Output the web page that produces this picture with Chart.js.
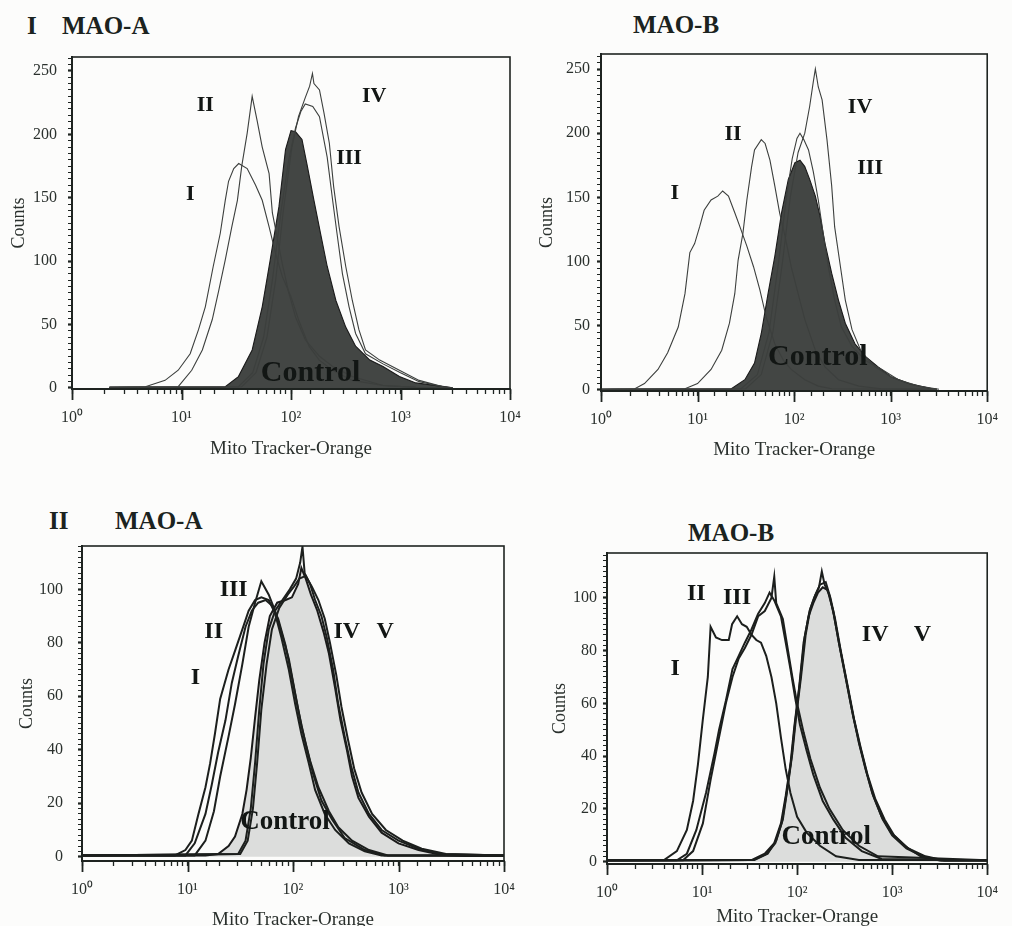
<!DOCTYPE html>
<html><head><meta charset="utf-8">
<script src="https://cdn.jsdelivr.net/npm/chart.js@4.4.1/dist/chart.umd.min.js"></script>
<style>
html,body{margin:0;padding:0;background:#fcfcfb;width:1012px;height:926px;overflow:hidden;}
canvas{position:absolute;}
.t{position:absolute;font-family:'Liberation Serif','Times New Roman',serif;font-weight:bold;font-size:25px;line-height:25px;color:#1b2320;white-space:pre;}
</style></head><body>
<div class="t" style="left:27px;top:13px">I</div>
<div class="t" style="left:62px;top:13px">MAO-A</div>
<div class="t" style="left:633px;top:12px">MAO-B</div>
<div class="t" style="left:49px;top:508px">II</div>
<div class="t" style="left:115px;top:508px">MAO-A</div>
<div class="t" style="left:688px;top:520px">MAO-B</div>
<canvas id="c1" width="540" height="470" style="left:0;top:0"></canvas>
<canvas id="c2" width="482" height="470" style="left:530px;top:0"></canvas>
<canvas id="c3" width="530" height="470" style="left:0;top:470px"></canvas>
<canvas id="c4" width="482" height="470" style="left:530px;top:470px"></canvas>
<script>
// ---------- Axis tick labels ----------
const xDecades = [1, 10, 100, 1000, 10000];
const xDecadeLabels = ['10\u2070', '10\u00b9', '10\u00b2', '10\u00b3', '10\u2074'];
const xTitle = 'Mito Tracker-Orange';
const yTitle = 'Counts';

// ---------- Panel I, MAO-A ----------
const p1I_x = [2.2, 4.68, 7.08, 9.33, 12.0, 14.3, 16.5, 19.5, 22.6, 25.1, 26.9, 30.0, 33.3, 39.8, 47.4, 54.6, 63.1, 72.4, 83.2, 100, 117, 146, 181, 240, 363, 692, 1380, 3000];
const p1I_y = [0.5, 1, 6, 14, 27, 46, 64, 96, 122, 148, 163, 173, 177, 173, 160, 148, 127, 106, 88, 72, 54, 33, 22, 14, 6, 2, 0.5, 0];
const p1II_x = [2.2, 9.33, 12.4, 15.5, 19.1, 21.9, 25.1, 28.8, 32.4, 35.5, 39.8, 44.2, 49.0, 54.6, 63.1, 67.6, 72.4, 83.2, 95.5, 110, 135, 182, 240, 363, 692, 1380, 3000];
const p1II_y = [0.5, 1, 14, 30, 54, 77, 101, 127, 148, 175, 201, 230, 211, 190, 169, 138, 125, 98, 75, 56, 38, 25, 17, 9, 2, 0.5, 0];
const p1III_x = [2.2, 33.1, 44.7, 56.2, 67.6, 81.3, 95.5, 110, 123, 135, 158, 182, 214, 240, 263, 295, 339, 389, 479, 692, 1000, 1479, 2455, 3000];
const p1III_y = [0.5, 1, 12, 40, 85, 140, 180, 205, 218, 224, 222, 214, 182, 148, 122, 90, 64, 43, 27, 19, 12, 5, 1, 0];
const p1IV_x = [2.2, 35.5, 47.9, 60.3, 72.4, 85.1, 102, 117, 135, 148, 157, 162, 182, 200, 224, 245, 275, 316, 363, 417, 479, 646, 977, 1479, 2455, 3000];
const p1IV_y = [0.5, 1, 12, 40, 85, 140, 190, 214, 229, 238, 248, 240, 235, 217, 193, 159, 127, 96, 69, 46, 30, 22, 14, 6, 1, 0];
const p1Ctrl_x = [2.2, 25.1, 33.1, 44.2, 54.6, 64.6, 77.6, 89.1, 100, 110, 126, 141, 162, 186, 214, 257, 316, 389, 525, 692, 977, 1380, 2818, 3000];
const p1Ctrl_y = [0.5, 1, 9, 30, 64, 101, 143, 188, 203, 202, 196, 175, 148, 122, 96, 69, 48, 33, 22, 17, 9, 4, 0.5, 0];
const p1LabelText = ['II', 'I', 'IV', 'III', 'Control'];
const p1LabelX = [16.5, 12.0, 575, 339, 151];
const p1LabelY = [223, 153, 230, 181, 11.8];

// ---------- Panel I, MAO-B ----------
const p2I_x = [1.0, 2.24, 2.82, 3.89, 4.90, 6.31, 7.41, 8.32, 9.33, 10.5, 11.7, 13.8, 16.2, 18.2, 20.9, 24.3, 27.5, 32.4, 38.0, 44.2, 51.3, 63.1, 77.6, 93.3, 129, 178, 245, 3000];
const p2I_y = [0.5, 1, 5, 16, 29, 49, 75, 107, 114, 127, 140, 148, 151, 155, 151, 138, 127, 112, 96, 78, 57, 36, 23, 16, 8, 3, 1, 0.5];
const p2II_x = [1.0, 7.41, 10, 13.8, 17.8, 21.4, 24.3, 26.3, 29.5, 32.4, 36.3, 38.9, 45.7, 50.1, 56.2, 63.1, 70.8, 80.4, 93.3, 110, 129, 166, 209, 288, 468, 794, 3000];
const p2II_y = [0.5, 1, 5, 16, 31, 52, 75, 101, 122, 148, 174, 187, 195, 192, 179, 159, 138, 120, 96, 75, 55, 31, 18, 8, 3, 1, 0.5];
const p2III_x = [1.0, 28.2, 41.7, 55.0, 69.2, 83.2, 95.5, 107, 115, 126, 141, 158, 178, 200, 226, 263, 309, 398, 550, 813, 1202, 1950, 3162];
const p2III_y = [0.5, 1, 12, 45, 100, 150, 180, 196, 200, 195, 187, 170, 148, 122, 96, 70, 49, 34, 23, 16, 8, 3, 0.5];
const p2IV_x = [1.0, 31.6, 45.7, 60.3, 75.9, 91.2, 110, 129, 145, 158, 166, 178, 195, 219, 245, 263, 302, 339, 398, 501, 692, 1023, 1660, 2692, 3000];
const p2IV_y = [0.5, 1, 12, 45, 100, 150, 185, 200, 221, 240, 250, 236, 226, 195, 159, 127, 96, 70, 47, 29, 18, 10, 4, 1, 0.5];
const p2Ctrl_x = [1.0, 22.4, 30.9, 38.9, 45.7, 53.7, 63.1, 74.1, 87.1, 102, 115, 129, 145, 166, 186, 209, 245, 288, 339, 427, 550, 741, 1023, 1549, 2692, 3000];
const p2Ctrl_y = [0.5, 1, 8, 21, 44, 75, 104, 138, 164, 177, 179, 174, 164, 151, 135, 114, 91, 70, 52, 36, 26, 18, 10, 5, 1, 0.5];
const p2LabelText = ['I', 'II', 'IV', 'III', 'Control'];
const p2LabelX = [5.8, 23.3, 482, 613, 176];
const p2LabelY = [153, 199, 220, 173, 25.7];

// ---------- Panel II, MAO-A ----------
const p3I_x = [1.0, 7.59, 9.55, 11.0, 12.7, 14.8, 16.4, 18.2, 20.4, 24.5, 28.2, 33.1, 38.0, 43.7, 50.1, 58.9, 67.6, 77.6, 91.2, 105, 120, 141, 162, 200, 251, 339, 479, 692, 3000, 10000];
const p3I_y = [0.5, 0.5, 2.5, 6, 16, 26, 35, 46, 59, 70, 77, 85, 92, 96, 97, 96, 91, 82, 70, 57, 46, 35, 25, 16, 10, 5, 2, 0.5, 0.5, 0.5];
const p3II_x = [1.0, 9.55, 11.7, 14.8, 17.0, 19.5, 22.9, 26.3, 30.2, 35.5, 40.7, 46.8, 55.0, 63.1, 72.4, 85.1, 97.7, 112, 132, 155, 186, 234, 309, 479, 741, 10000];
const p3II_y = [0.5, 0.5, 5, 16, 27, 39, 51, 65, 75, 86, 92, 95, 96, 94, 89, 79, 67, 55, 42, 31, 21, 14, 7, 2.5, 0.5, 0.5];
const p3III_x = [1.0, 11.7, 14.8, 17.8, 20.4, 24.5, 28.2, 33.1, 38.0, 43.7, 50.1, 58.9, 67.6, 77.6, 91.2, 105, 120, 145, 174, 219, 269, 363, 525, 794, 10000];
const p3III_y = [0.5, 0.5, 6, 17, 30, 45, 57, 72, 86, 95, 103, 98, 92, 84, 74, 61, 49, 36, 26, 17, 11, 6, 2.5, 0.5, 0.5];
const p3IV_x = [1.0, 30.2, 35.5, 39.8, 43.7, 47.9, 52.5, 58.9, 67.6, 79.4, 93.3, 107, 117, 123, 129, 145, 162, 186, 209, 240, 269, 309, 355, 417, 525, 692, 1000, 1549, 2570, 10000];
const p3IV_y = [0.5, 1, 6, 18, 35, 55, 72, 85, 92, 96, 100, 104, 110, 116, 106, 102, 96, 90, 82, 70, 57, 45, 34, 24, 16, 10, 6, 3, 1, 0.5];
const p3V_x = [1.0, 31.6, 37.2, 41.7, 45.7, 50.1, 56.2, 63.1, 74.1, 89.1, 102, 115, 132, 151, 174, 200, 224, 257, 288, 331, 380, 447, 562, 759, 1096, 1660, 2818, 10000];
const p3V_y = [0.5, 1, 6, 18, 35, 55, 72, 85, 93, 98, 101, 104, 105, 101, 96, 89, 80, 68, 56, 44, 33, 24, 16, 10, 6, 3, 1, 0.5];
const p3Ctrl_x = [1.0, 14.8, 19.5, 24.5, 28.2, 33.1, 36.3, 39.8, 43.7, 47.9, 53.7, 60.3, 70.8, 85.1, 97.7, 112, 120, 132, 148, 170, 195, 219, 251, 282, 324, 363, 417, 525, 692, 1000, 1549, 2570, 4266, 10000];
const p3Ctrl_y = [0.5, 0.5, 1, 4, 7.5, 16, 25, 37, 52, 66, 80, 90, 95, 96, 97, 102, 108, 104, 98, 92, 84, 76, 63, 51, 40, 30, 22, 15, 9, 5, 2.5, 0.6, 0.3, 0.3];
const p3LabelText = ['III', 'II', 'I', 'IV', 'V', 'Control'];
const p3LabelX = [27.4, 17.7, 11.9, 324, 746, 84];
const p3LabelY = [99.8, 84, 67, 84, 84, 13];

// ---------- Panel II, MAO-B ----------
const p4I_x = [1.0, 3.98, 5.43, 6.92, 8.05, 9.06, 10.2, 11.5, 12.3, 14.0, 16.2, 19.1, 20.7, 23.4, 26.3, 29.5, 33.1, 37.2, 41.7, 47.3, 53.7, 60.3, 67.6, 75.9, 85.1, 100, 126, 174, 257, 447, 10000];
const p4I_y = [0.6, 0.6, 4, 12, 23, 37, 54, 70, 89, 85, 84, 84, 90, 93, 90, 89, 86, 84, 83, 78, 70, 60, 47, 35, 26, 17, 11, 6, 2, 0.6, 0.6];
const p4II_x = [1.0, 5.43, 6.92, 8.71, 11.0, 13.5, 15.1, 17.8, 20.9, 24.3, 28.2, 33.1, 38.9, 45.7, 51.3, 57.5, 67.6, 75.9, 85.1, 95.5, 107, 126, 148, 186, 240, 324, 479, 776, 10000];
const p4II_y = [0.5, 0.5, 3, 12, 26, 41, 50, 61, 73, 78, 83, 88, 94, 98, 102, 99, 93, 83, 73, 62, 52, 42, 33, 23, 16, 9, 4, 1, 0.5];
const p4III_x = [1.0, 6.31, 8.05, 10.2, 12.3, 14.5, 17.8, 20.9, 24.3, 28.2, 33.1, 38.9, 45.7, 53.7, 57.5, 60.3, 70.8, 79.4, 89.1, 100, 117, 138, 174, 219, 302, 447, 708, 10000];
const p4III_y = [0.5, 0.5, 4, 14.5, 31, 44, 60, 70, 77, 81, 86, 93, 95, 100, 108, 98, 92, 81, 70, 60, 49, 39, 28, 20, 12, 6, 2, 0.5];
const p4IV_x = [1.0, 34.7, 47.9, 58.9, 69.2, 77.6, 87.1, 95.5, 107, 120, 135, 151, 170, 182, 195, 219, 245, 282, 331, 389, 457, 537, 631, 794, 1000, 1413, 2089, 3311, 10000];
const p4IV_y = [0.4, 0.6, 3, 7, 15, 26, 39, 53, 68, 85, 95, 100, 104, 110, 105, 101, 93, 81, 68, 55, 44, 34, 25, 16, 10, 5, 2, 0.4, 0.4];
const p4V_x = [1.0, 35.5, 49.0, 60.3, 70.8, 79.4, 89.1, 97.7, 110, 123, 138, 155, 174, 200, 224, 251, 288, 339, 398, 468, 550, 661, 832, 1047, 1479, 2239, 3548, 10000];
const p4V_y = [0.4, 0.6, 3, 8, 16, 28, 41, 55, 70, 86, 96, 101, 105, 106, 100, 92, 80, 67, 54, 43, 33, 24, 16, 10, 5, 2, 0.4, 0.4];
const p4Ctrl_x = [1.0, 33.1, 45.7, 57.5, 67.6, 75.9, 85.1, 93.3, 105, 117, 132, 148, 166, 186, 209, 240, 275, 324, 380, 447, 525, 617, 776, 977, 1349, 1995, 3162, 10000];
const p4Ctrl_y = [0.4, 0.6, 3, 7, 14.5, 25, 37, 51, 66, 83, 93, 98, 102, 104, 103, 95, 83, 70, 57, 45, 35, 26, 17, 11, 6, 2, 0.4, 0.4];
const p4LabelText = ['II', 'III', 'I', 'IV', 'V', 'Control'];
const p4LabelX = [8.7, 23.3, 5.2, 662, 2080, 203];
const p4LabelY = [101.6, 100, 73, 86, 86, 9.5];

// ---------- Styling ----------
const SERIF = "'Liberation Serif', 'Times New Roman', serif";
const AX = '#1e2421';
const TXT = '#2a302d';

const panelDecor = {
  id: 'panelDecor',
  afterDraw(chart, args, opts) {
    const {ctx, chartArea: a, scales} = chart;
    ctx.save();
    ctx.strokeStyle = AX;
    ctx.lineWidth = 1.6;
    ctx.strokeRect(a.left, a.top, a.right - a.left, a.bottom - a.top);
    // longer tick marks at the decades
    ctx.lineWidth = 1.8;
    xDecades.forEach(v => {
      const px = Math.round(scales.x.getPixelForValue(v)) + 0.5;
      ctx.beginPath(); ctx.moveTo(px, a.bottom); ctx.lineTo(px, a.bottom + 11); ctx.stroke();
    });
    ctx.restore();
  },
  afterDatasetsDraw(chart, args, opts) {
    const {ctx, scales} = chart;
    ctx.save();
    ctx.textAlign = 'center';
    ctx.textBaseline = 'middle';
    ctx.fillStyle = '#121614';
    (opts.text || []).forEach((t, i) => {
      const size = t === 'Control' ? opts.ctrlSize : opts.size;
      ctx.font = 'bold ' + size + 'px ' + SERIF;
      ctx.fillText(t, scales.x.getPixelForValue(opts.x[i]), scales.y.getPixelForValue(opts.y[i]));
    });
    ctx.restore();
  }
};

function makePanel(id, p) {
  const datasets = p.curves.map(c => ({
    data: c.x.map((v, i) => ({x: v, y: c.y[i]})),
    borderColor: c.ctrl ? '#1a1a1a' : p.line,
    borderWidth: p.lw,
    backgroundColor: c.ctrl ? p.fillColor : 'rgba(0,0,0,0)',
    fill: c.ctrl ? 'origin' : false,
    pointRadius: 0,
    tension: 0,
    order: c.ctrl ? 10 : 1
  }));
  return new Chart(document.getElementById(id), {
    type: 'line',
    data: {datasets},
    plugins: [panelDecor],
    options: {
      responsive: false, animation: false, devicePixelRatio: 1,
      layout: {autoPadding: false, padding: {left: 0, top: p.padTop, right: p.padRight, bottom: 0}},
      plugins: {
        legend: {display: false}, tooltip: {enabled: false},
        panelDecor: {text: p.labelText, x: p.labelX, y: p.labelY, size: p.labelSize, ctrlSize: p.ctrlSize}
      },
      scales: {
        x: {
          type: 'logarithmic', min: 1, max: 10000,
          afterFit: s => { s.height = p.xh; },
          border: {display: true, color: AX, width: 2},
          grid: {drawOnChartArea: false, drawTicks: true, tickLength: 5, tickColor: AX, tickWidth: 1.3},
          ticks: {
            autoSkip: false, maxRotation: 0, minRotation: 0, padding: 14, color: TXT,
            font: {family: SERIF, size: 16},
            callback: v => { const k = xDecades.indexOf(v); return k >= 0 ? xDecadeLabels[k] : ''; }
          },
          title: {display: true, text: xTitle, color: TXT, font: {family: SERIF, size: 19}, padding: {top: 0, bottom: p.xTitlePad}}
        },
        y: {
          type: 'linear', min: p.ymin, max: p.ymax,
          afterFit: s => { s.width = p.yw; },
          border: {display: true, color: AX, width: 2},
          grid: {drawOnChartArea: false, drawTicks: true, tickLength: 4, tickColor: AX,
                 tickWidth: c => (c.tick && c.tick.value >= 0 && c.tick.value % p.major === 0) ? 2.2 : 1},
          ticks: {
            stepSize: p.step, autoSkip: false, includeBounds: false, padding: p.yTickPad, color: TXT,
            font: {family: SERIF, size: 16},
            callback: v => (v >= 0 && v % p.major === 0) ? String(v) : ''
          },
          title: {display: true, text: yTitle, color: TXT, font: {family: SERIF, size: 18}, padding: {top: p.yTitlePad, bottom: 0}}
        }
      }
    }
  });
}

const topStyle = {line: '#3c3f3d', lw: 1.1, fillColor: '#434644', labelSize: 22, ctrlSize: 30, step: 5, major: 50};
const botStyle = {line: '#1c1f1d', lw: 2, fillColor: '#dcdddc', labelSize: 24, ctrlSize: 27, step: 2, major: 20};

makePanel('c1', Object.assign({}, topStyle, {
  padTop: 57, padRight: 30, xh: 81, yw: 72, ymin: -0.8, ymax: 261,
  xTitlePad: 9.6, yTitlePad: 8, yTickPad: 11,
  curves: [
    {x: p1I_x, y: p1I_y}, {x: p1II_x, y: p1II_y}, {x: p1III_x, y: p1III_y}, {x: p1IV_x, y: p1IV_y},
    {x: p1Ctrl_x, y: p1Ctrl_y, ctrl: true}
  ],
  labelText: p1LabelText, labelX: p1LabelX, labelY: p1LabelY
}));
makePanel('c2', Object.assign({}, topStyle, {
  padTop: 54, padRight: 23, xh: 79, yw: 71, ymin: -0.8, ymax: 261.7,
  xTitlePad: 8.6, yTitlePad: 6, yTickPad: 7,
  curves: [
    {x: p2I_x, y: p2I_y}, {x: p2II_x, y: p2II_y}, {x: p2III_x, y: p2III_y}, {x: p2IV_x, y: p2IV_y},
    {x: p2Ctrl_x, y: p2Ctrl_y, ctrl: true}
  ],
  labelText: p2LabelText, labelX: p2LabelX, labelY: p2LabelY
}));
makePanel('c3', Object.assign({}, botStyle, {
  padTop: 76, padRight: 26, xh: 79, yw: 82, ymin: -1.6, ymax: 116.2,
  xTitlePad: 8.6, yTitlePad: 16, yTickPad: 15,
  curves: [
    {x: p3I_x, y: p3I_y}, {x: p3II_x, y: p3II_y}, {x: p3III_x, y: p3III_y},
    {x: p3IV_x, y: p3IV_y}, {x: p3V_x, y: p3V_y},
    {x: p3Ctrl_x, y: p3Ctrl_y, ctrl: true}
  ],
  labelText: p3LabelText, labelX: p3LabelX, labelY: p3LabelY
}));
makePanel('c4', Object.assign({}, botStyle, {
  padTop: 83, padRight: 13, xh: 76, yw: 77, ymin: -0.9, ymax: 117,
  xTitlePad: 11.6, yTitlePad: 19, yTickPad: 6,
  curves: [
    {x: p4I_x, y: p4I_y}, {x: p4II_x, y: p4II_y}, {x: p4III_x, y: p4III_y},
    {x: p4IV_x, y: p4IV_y}, {x: p4V_x, y: p4V_y},
    {x: p4Ctrl_x, y: p4Ctrl_y, ctrl: true}
  ],
  labelText: p4LabelText, labelX: p4LabelX, labelY: p4LabelY
}));
</script>
</body></html>
